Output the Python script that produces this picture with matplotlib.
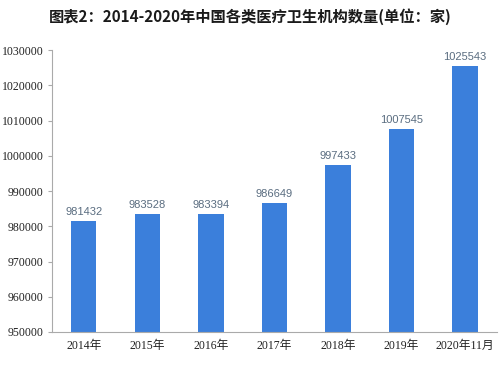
import matplotlib
matplotlib.use("Agg")
import matplotlib.pyplot as plt

categories = ["2014年", "2015年", "2016年", "2017年", "2018年", "2019年", "2020年11月"]
values = [981432, 983528, 983394, 986649, 997433, 1007545, 1025543]
yticks = [950000, 960000, 970000, 980000, 990000, 1000000, 1010000, 1020000, 1030000]
title = "图表2：2014-2020年中国各类医疗卫生机构数量(单位：家)"

plt.rcParams['font.family'] = ['Liberation Serif', 'Noto Sans CJK SC', 'DejaVu Sans']

fig = plt.figure(figsize=(5, 3.66), dpi=100)
ax = fig.add_axes([0.104, 0.093, 0.89, 0.77])

x = list(range(len(categories)))
ax.bar(x, values, width=0.4, color="#3b7fdb", zorder=2)
for xi, v in zip(x, values):
    ax.text(xi, v + 1200, f"{v}", ha="center", va="bottom", fontsize=8,
            color="#5a6d80", family=['Liberation Sans', 'DejaVu Sans'])

ax.set_ylim(950000, 1030000)
ax.set_yticks(yticks)
ax.set_yticklabels([str(t) for t in yticks], fontsize=8.5, color="#222222")
ax.set_xlim(-0.5, len(categories) - 0.5)
ax.set_xticks(x)
ax.set_xticklabels(categories, fontsize=8.5, color="#222222")
ax.tick_params(axis="x", length=0, pad=6)
ax.tick_params(axis="y", length=3, color="#aaaaaa", pad=3)
for s in ["top", "right"]:
    ax.spines[s].set_visible(False)
for s in ["left", "bottom"]:
    ax.spines[s].set_color("#aaaaaa")
    ax.spines[s].set_linewidth(0.8)

fig.text(0.5, 0.955, title, ha="center", va="center", fontsize=11,
         fontweight="bold", color="#1a1a1a",
         family=['Noto Sans CJK SC', 'DejaVu Sans'])

fig.savefig("out.png", dpi=100)
